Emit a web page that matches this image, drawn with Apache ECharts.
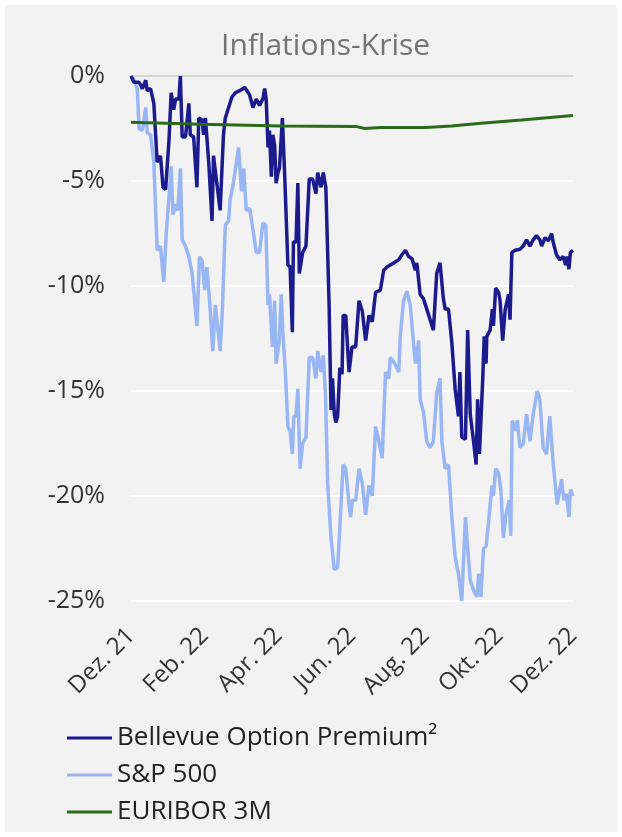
<!DOCTYPE html>
<html>
<head>
<meta charset="utf-8">
<script src="https://cdn.jsdelivr.net/npm/echarts@6/dist/echarts.min.js"></script>
<style>
  html, body { margin: 0; padding: 0; background: #ffffff; }
  #chart { width: 622px; height: 837px; background: #f2f2f2; box-shadow: inset 0 0 0 5px #ffffff; }
</style>
</head>
<body>
<div id="chart"></div>
<script>
// x positions are months since Dec. 21 (0 = Dez. 21, 12 = Dez. 22)
const xTickLabels = ["Dez. 21", "Feb. 22", "Apr. 22", "Jun. 22", "Aug. 22", "Okt. 22", "Dez. 22"];
const seriesNames = ["Bellevue Option Premium\u00B2", "S&P 500", "EURIBOR 3M"];

const bellevue = [
[0,0],[0.08,-0.3],[0.22,-0.3],[0.31,-0.6],[0.40,-0.2],[0.44,-0.7],[0.53,-0.6],[0.62,-1.3],[0.71,-4.1],[0.80,-3.8],[0.87,-5.3],[0.94,-5.4],[1.03,-3.1],[1.09,-0.8],[1.16,-1.6],[1.21,-1.1],[1.30,-1.1],[1.34,0],[1.39,-2.9],[1.48,-2.9],[1.57,-1.3],[1.61,-2.8],[1.70,-2.9],[1.79,-5.3],[1.84,-2.0],[1.93,-2.1],[1.97,-2.8],[2.02,-2.0],[2.11,-4.1],[2.20,-6.9],[2.24,-3.8],[2.33,-5.1],[2.42,-6.4],[2.51,-2.8],[2.56,-2.0],[2.65,-1.5],[2.74,-1.0],[2.83,-0.8],[2.95,-0.7],[3.09,-0.55],[3.22,-0.9],[3.31,-1.5],[3.40,-1.1],[3.49,-1.4],[3.58,-1.1],[3.63,-0.6],[3.67,-1.1],[3.72,-3.4],[3.76,-2.6],[3.81,-4.8],[3.85,-2.8],[3.90,-3.3],[3.94,-5.1],[3.99,-4.6],[4.03,-4.4],[4.11,-2.0],[4.17,-4.6],[4.26,-9.0],[4.32,-9.1],[4.38,-12.2],[4.41,-7.9],[4.48,-7.9],[4.53,-5.1],[4.57,-9.4],[4.66,-8.4],[4.75,-8.1],[4.84,-4.9],[4.93,-4.9],[5.02,-5.6],[5.07,-4.6],[5.16,-5.3],[5.22,-4.6],[5.29,-5.3],[5.38,-11.0],[5.43,-15.9],[5.47,-14.4],[5.52,-16.1],[5.56,-16.5],[5.61,-16.2],[5.67,-13.9],[5.73,-14.2],[5.76,-11.4],[5.83,-11.4],[5.88,-12.9],[5.92,-14.1],[6.00,-12.9],[6.10,-12.9],[6.19,-10.7],[6.28,-11.2],[6.37,-12.6],[6.46,-11.4],[6.55,-11.7],[6.64,-10.3],[6.77,-10.2],[6.86,-9.25],[6.95,-9.1],[7.13,-8.9],[7.27,-8.75],[7.36,-8.5],[7.45,-8.3],[7.54,-8.6],[7.63,-8.7],[7.72,-9.25],[7.76,-8.9],[7.81,-8.9],[7.85,-10.4],[7.94,-10.6],[8.03,-11.1],[8.12,-11.6],[8.21,-12.1],[8.30,-9.4],[8.39,-8.9],[8.48,-10.6],[8.53,-11.1],[8.62,-11.1],[8.71,-12.7],[8.80,-14.9],[8.89,-16.2],[8.93,-14.1],[8.98,-17.2],[9.08,-17.3],[9.14,-12.1],[9.21,-16.1],[9.30,-17.4],[9.37,-18.5],[9.41,-15.4],[9.46,-18.0],[9.55,-14.4],[9.59,-12.4],[9.64,-13.7],[9.66,-12.4],[9.75,-12.1],[9.81,-11.1],[9.84,-11.9],[9.90,-10.1],[9.98,-10.3],[10.02,-10.7],[10.09,-12.6],[10.16,-11.1],[10.25,-10.4],[10.29,-11.6],[10.34,-8.4],[10.43,-8.3],[10.56,-8.25],[10.65,-8.1],[10.74,-7.8],[10.83,-8.1],[10.92,-7.8],[11.01,-7.6],[11.10,-7.8],[11.15,-8.1],[11.24,-7.7],[11.33,-7.85],[11.42,-7.5],[11.46,-7.9],[11.55,-8.5],[11.64,-8.75],[11.73,-8.6],[11.80,-9.0],[11.84,-8.6],[11.89,-9.2],[11.93,-8.4],[12,-8.3]
];

const sp500 = [
[0,0],[0.08,-0.2],[0.17,-0.6],[0.22,-2.5],[0.31,-2.6],[0.40,-1.5],[0.44,-2.7],[0.53,-2.8],[0.62,-4.1],[0.71,-8.3],[0.80,-8.1],[0.89,-9.8],[0.96,-7.4],[1.03,-5.8],[1.09,-4.3],[1.14,-6.6],[1.21,-6.1],[1.27,-6.4],[1.34,-4.4],[1.39,-7.8],[1.48,-8.1],[1.57,-8.6],[1.66,-9.4],[1.70,-9.4],[1.79,-11.9],[1.86,-8.6],[1.93,-8.8],[2.00,-10.2],[2.06,-9.1],[2.15,-11.1],[2.22,-13.1],[2.29,-10.9],[2.35,-11.9],[2.42,-13.1],[2.48,-11.2],[2.56,-7.1],[2.65,-6.9],[2.69,-5.9],[2.78,-5.1],[2.92,-3.4],[3.00,-5.5],[3.06,-4.4],[3.13,-6.4],[3.22,-6.3],[3.31,-7.3],[3.40,-8.4],[3.49,-8.4],[3.58,-7.0],[3.66,-7.1],[3.72,-10.9],[3.76,-10.4],[3.84,-12.9],[3.90,-10.7],[3.94,-13.7],[4.02,-12.7],[4.08,-10.4],[4.12,-12.1],[4.20,-14.4],[4.26,-16.7],[4.32,-16.9],[4.38,-18.0],[4.42,-16.2],[4.48,-16.2],[4.53,-14.9],[4.59,-18.7],[4.66,-17.5],[4.75,-17.2],[4.84,-13.4],[4.93,-13.4],[5.02,-14.4],[5.07,-13.1],[5.16,-14.1],[5.22,-13.3],[5.28,-15.2],[5.34,-19.4],[5.43,-22.0],[5.52,-23.5],[5.61,-23.4],[5.67,-21.5],[5.76,-18.5],[5.83,-18.7],[5.92,-20.4],[5.96,-21.0],[6.01,-20.2],[6.10,-20.2],[6.19,-18.7],[6.28,-19.4],[6.37,-20.9],[6.46,-19.5],[6.55,-20.0],[6.64,-16.7],[6.73,-17.4],[6.82,-18.2],[6.91,-14.1],[7.00,-14.4],[7.04,-13.4],[7.13,-13.6],[7.27,-14.1],[7.31,-12.4],[7.40,-10.7],[7.49,-10.25],[7.58,-10.9],[7.72,-13.7],[7.81,-12.6],[7.85,-15.4],[7.94,-16.0],[8.03,-17.4],[8.12,-17.7],[8.21,-17.4],[8.30,-15.1],[8.39,-14.4],[8.44,-17.4],[8.53,-18.7],[8.62,-18.5],[8.71,-21.0],[8.80,-22.9],[8.89,-23.7],[8.98,-25.0],[9.08,-21.0],[9.14,-22.5],[9.21,-24.0],[9.30,-24.5],[9.39,-24.8],[9.44,-23.7],[9.50,-24.8],[9.57,-22.5],[9.64,-22.4],[9.71,-21.2],[9.80,-19.5],[9.84,-20.0],[9.90,-18.7],[9.98,-18.9],[10.04,-19.7],[10.11,-22.0],[10.18,-20.9],[10.27,-20.2],[10.31,-21.9],[10.35,-16.4],[10.43,-16.9],[10.49,-16.4],[10.56,-17.7],[10.65,-17.5],[10.74,-16.1],[10.83,-17.4],[10.92,-16.1],[11.03,-15.0],[11.10,-15.4],[11.19,-17.7],[11.28,-18.0],[11.37,-16.2],[11.46,-18.4],[11.57,-20.4],[11.64,-19.7],[11.69,-19.2],[11.75,-20.2],[11.82,-19.9],[11.89,-21.0],[11.93,-19.7],[12,-20.0]
];

const euribor = [
[0,-2.2],[1.9,-2.3],[4.1,-2.38],[6.1,-2.4],[6.35,-2.5],[6.8,-2.45],[8.0,-2.45],[8.7,-2.38],[9.5,-2.25],[10.6,-2.1],[12,-1.88]
];

const FONT = "'Open Sans', sans-serif";
const chart = echarts.init(document.getElementById('chart'), null, { renderer: 'canvas' });
chart.setOption({
  backgroundColor: 'transparent',
  animation: false,
  title: {
    text: 'Inflations-Krise',
    left: 216,
    top: 26,
    textStyle: { fontFamily: FONT, fontSize: 30, fontWeight: 'normal', color: '#737373' }
  },
  grid: { left: 131, right: 49, top: 76, bottom: 236, containLabel: false },
  xAxis: {
    type: 'value',
    min: 0, max: 12, interval: 2,
    axisLine: { show: false },
    axisTick: { show: false },
    splitLine: { show: false },
    axisLabel: {
      rotate: 45,
      margin: 31,
      fontFamily: FONT,
      fontSize: 24,
      color: '#333333',
      formatter: function (v) { return xTickLabels[Math.round(v / 2)]; }
    }
  },
  yAxis: {
    type: 'value',
    min: -25, max: 0, interval: 5,
    axisLine: { show: false },
    axisTick: { show: false },
    splitLine: { show: true, lineStyle: { color: ['#ffffff','#ffffff','#ffffff','#ffffff','#ffffff','#d6d6d6'], width: 2 } },
    axisLabel: {
      margin: 26,
      fontFamily: FONT,
      fontSize: 25,
      color: '#333333',
      formatter: function (v) { return v + '%'; }
    }
  },
  legend: {
    orient: 'vertical',
    left: 62,
    top: 720,
    icon: 'rect',
    itemWidth: 45,
    itemHeight: 3,
    itemGap: 11,
    data: seriesNames,
    textStyle: { fontFamily: FONT, fontSize: 26, color: '#222222' }
  },
  series: [
    { name: seriesNames[1], type: 'line', data: sp500, symbol: 'none', lineStyle: { color: '#98b5f4', width: 3.5 }, itemStyle: { color: '#98b5f4' }, z: 2 },
    { name: seriesNames[0], type: 'line', data: bellevue, symbol: 'none', lineStyle: { color: '#1b1b8e', width: 3.5 }, itemStyle: { color: '#1b1b8e' }, z: 3 },
    { name: seriesNames[2], type: 'line', data: euribor, symbol: 'none', lineStyle: { color: '#2a6b17', width: 3 }, itemStyle: { color: '#2a6b17' }, z: 4 }
  ]
});
</script>
</body>
</html>
